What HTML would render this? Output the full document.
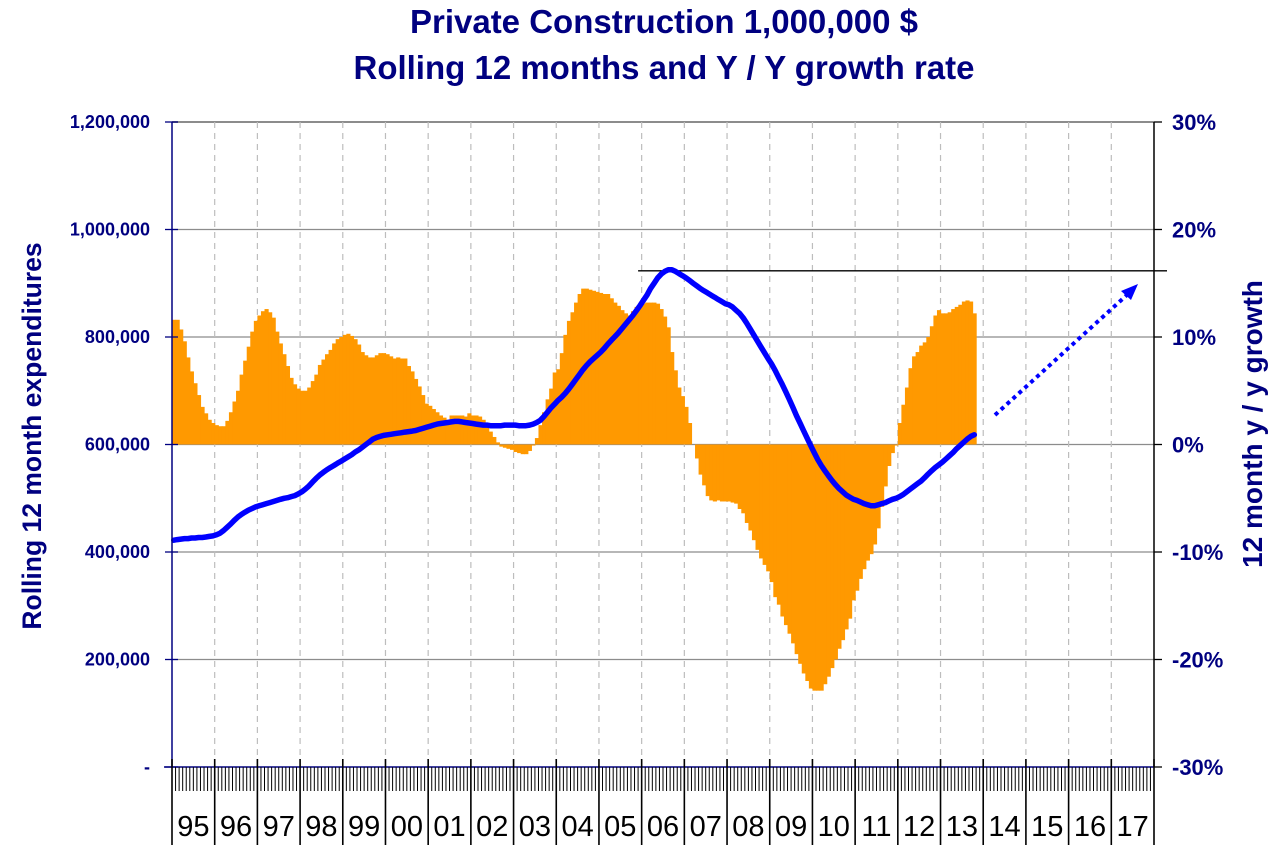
<!DOCTYPE html>
<html><head><meta charset="utf-8"><style>
body{margin:0;background:#fff;}
svg{display:block;font-family:"Liberation Sans",Arial,sans-serif;}
</style></head><body>
<svg id="chart" width="1276" height="852" viewBox="0 0 1276 852" xmlns="http://www.w3.org/2000/svg">
<text x="664" y="33" text-anchor="middle" font-size="33" font-weight="bold" fill="#000080">Private Construction 1,000,000 $</text>
<text x="664" y="79" text-anchor="middle" font-size="33" font-weight="bold" fill="#000080">Rolling 12 months and Y / Y growth rate</text>
<text transform="translate(41,436) rotate(-90)" text-anchor="middle" font-size="26.5" font-weight="bold" fill="#000080">Rolling 12 month expenditures</text>
<text transform="translate(1262,424) rotate(-90)" text-anchor="middle" font-size="28" font-weight="bold" fill="#000080">12 month y / y growth</text>
<g id="grid"></g><g id="bars"></g><g id="lineg"></g><g id="axes"></g>
</svg>
<script>
const years=['95','96','97','98','99','00','01','02','03','04','05','06','07','08','09','10','11','12','13','14','15','16','17'];
const leftTicks=[0,200000,400000,600000,800000,1000000,1200000];
const leftTickLabels=['-','200,000','400,000','600,000','800,000','1,000,000','1,200,000'];
const rightTicks=[-30,-20,-10,0,10,20,30];
const growth=[
11.6,11.6,10.7,9.6,8.1,6.8,5.7,4.6,3.5,2.9,2.3,2.0,
1.8,1.7,1.7,2.2,3.0,4.0,5.0,6.5,7.8,9.1,10.5,11.5,
12.0,12.4,12.6,12.3,11.8,10.5,9.4,8.4,7.3,6.2,5.6,5.2,
5.0,5.0,5.3,5.9,6.5,7.4,7.9,8.4,8.8,9.4,9.8,10.0,
10.2,10.3,10.1,9.8,9.3,8.6,8.3,8.1,8.1,8.3,8.5,8.5,
8.4,8.2,8.0,8.1,8.0,8.0,7.3,6.8,6.1,5.4,4.6,3.8,
3.6,3.3,3.0,2.7,2.5,2.3,2.7,2.7,2.7,2.7,2.6,2.9,
2.7,2.7,2.6,2.3,1.8,1.2,0.7,0.2,-0.2,-0.3,-0.4,-0.5,
-0.7,-0.8,-0.9,-0.9,-0.6,-0.1,0.6,1.8,3.0,4.2,5.2,6.7,
7.0,8.5,10.2,11.5,12.3,13.2,14.0,14.5,14.5,14.4,14.3,14.2,
14.1,14.0,14.0,13.6,13.2,12.9,12.5,12.2,12.0,12.4,12.8,13.0,
13.1,13.2,13.2,13.2,13.1,12.6,11.9,10.9,8.6,6.9,5.3,4.5,
3.5,2.0,0,-1.3,-2.8,-3.8,-4.8,-5.2,-5.3,-5.2,-5.3,-5.3,
-5.3,-5.4,-5.5,-6.0,-6.4,-7.3,-8.0,-8.9,-9.8,-10.6,-11.2,-11.8,
-12.8,-14.2,-14.9,-16.0,-16.8,-17.6,-18.5,-19.5,-20.4,-21.3,-22.0,-22.7,
-22.9,-22.9,-22.9,-22.3,-21.6,-20.8,-20.0,-19.0,-18.2,-17.2,-16.2,-14.5,
-13.6,-12.5,-11.6,-10.8,-10.2,-9.3,-7.8,-5.8,-3.9,-2.0,-0.8,-0.1,
2.0,3.7,5.3,7.1,8.2,8.6,9.2,9.5,10.0,11.0,12.0,12.5,
12.2,12.2,12.3,12.6,12.8,13.0,13.3,13.4,13.3,12.2];
const rolling=[
422,423,424,425,425,426,426,427,427,428,429,430,
432,435,440,446,452,459,465,470,474,478,481,484,
486,488,490,492,494,496,498,500,501,503,505,508,
512,517,523,530,537,543,548,553,557,561,565,569,
573,577,581,586,590,595,600,605,610,613,615,617,
618,619,620,621,622,623,624,625,626,628,630,632,
634,636,638,639,640,641,642,643,643,642,641,640,
639,638,637,636,636,635,635,635,635,636,636,636,
636,635,635,635,636,638,641,645,652,660,668,675,
682,688,695,703,712,721,730,739,747,754,760,766,
772,779,787,794,801,808,816,824,832,840,849,858,
868,878,890,900,910,917,922,925,925,922,918,914,
910,905,900,895,890,886,882,878,874,870,866,862,
860,856,850,844,836,826,815,804,793,782,771,760,
750,738,725,712,698,684,669,654,640,626,612,598,
585,572,561,551,542,533,525,518,512,506,502,498,
496,493,490,488,486,486,488,490,492,495,498,500,
503,507,512,517,522,527,532,538,545,551,557,562,
567,573,579,585,592,598,604,610,615,618];
const peakLevel=925;
const NS='http://www.w3.org/2000/svg';
const L=172,R=1154,T=122,B=767;
const nMonths=years.length*12, mw=(R-L)/nMonths;
const xM=m=>L+m*mw;
const yL=v=>B-(v/1200000)*(B-T);
const yR=p=>B-((p+30)/60)*(B-T);
function mk(tag,attrs,parent){const e=document.createElementNS(NS,tag);for(const k in attrs)e.setAttribute(k,attrs[k]);parent.appendChild(e);return e;}
const grid=document.getElementById('grid'),bars=document.getElementById('bars'),lg=document.getElementById('lineg'),axes=document.getElementById('axes');
leftTicks.forEach((v,i)=>{
 if(i>0){const g=mk('line',{x1:L,x2:R,y1:yL(v),y2:yL(v),stroke:'#8c8c8c','stroke-width':i==leftTicks.length-1?2:1.3},grid);
 
 }
 const t=mk('line',{x1:L-7,x2:L+6,y1:yL(v),y2:yL(v),stroke:'#000080','stroke-width':1.3},axes);
 
 
 const tx=mk('text',{x:150,y:yL(v)+6,'text-anchor':'end','font-size':18,'font-weight':'bold',fill:'#000080'},axes);
 tx.textContent=leftTickLabels[i];
 
 
});
rightTicks.forEach(p=>{
 const t=mk('line',{x1:R,x2:R+8,y1:yR(p),y2:yR(p),stroke:'#000','stroke-width':1.3},axes);
 
 
 const tx=mk('text',{x:1172,y:yR(p)+8,'font-size':22,'font-weight':'bold',fill:'#000080'},axes);
 tx.textContent=p+'%';
 
 
});
for(let k=1;k<years.length;k++){
 const x=xM(k*12);
 const g=mk('line',{x1:x,x2:x,y1:T,y2:B,stroke:'#bdbdbd','stroke-width':1.2,'stroke-dasharray':'6,5'},grid);
 
 
}
growth.forEach((p,m)=>{
 const y0=yR(0),y1=yR(p);
 const r=mk('rect',{x:xM(m),y:Math.min(y0,y1),width:mw+0.6,height:Math.abs(y1-y0),fill:'#ff9900'},bars);
 
 
});
const pk=mk('line',{x1:xM(131),x2:1167,y1:yL(peakLevel*1000)+1,y2:yL(peakLevel*1000)+1,stroke:'#000','stroke-width':1.3},lg);


const pts=rolling.map((v,m)=>xM(m+0.5).toFixed(1)+','+yL(v*1000).toFixed(1)).join(' ');
const pl=mk('polyline',{points:pts,fill:'none',stroke:'#0000ff','stroke-width':5.5,'stroke-linejoin':'round','stroke-linecap':'round'},lg);


const ar=mk('line',{x1:995,y1:415,x2:1128,y2:294,stroke:'#0000ff','stroke-width':4,'stroke-dasharray':'4,4'},lg);


const ah=mk('polygon',{points:'1138,284 1121,291 1131,300',fill:'#0000ff'},lg);


const la=mk('line',{x1:L,x2:L,y1:T,y2:B,stroke:'#000080','stroke-width':1.5},axes);


const ra=mk('line',{x1:R,x2:R,y1:T,y2:B,stroke:'#000','stroke-width':1.5},axes);


const ba=mk('line',{x1:L-8,x2:R,y1:B,y2:B,stroke:'#000080','stroke-width':1.5},axes);


for(let m=0;m<=nMonths;m++){
 const x=xM(m);
 const yr=m%12==0;
 const t=mk('line',{x1:x,x2:x,y1:yr?759:B,y2:yr?845:791,stroke:'#000','stroke-width':yr?1.6:1},axes);
 
 
}
years.forEach((y,k)=>{
 const tx=mk('text',{x:xM(k*12+6),y:836,'text-anchor':'middle','font-size':29,fill:'#000'},axes);
 tx.textContent=y;
 
 
});
</script>
</body></html>
